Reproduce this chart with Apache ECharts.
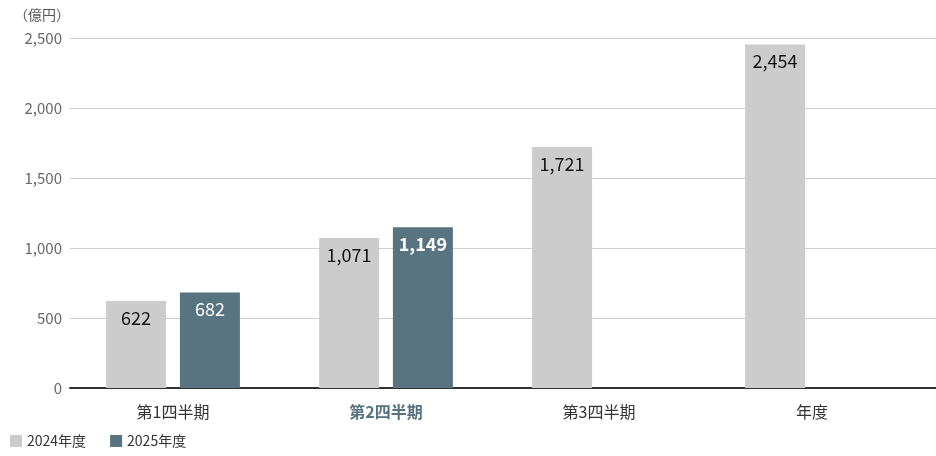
<!DOCTYPE html>
<html><head><meta charset="utf-8">
<script src="https://cdn.jsdelivr.net/npm/echarts@6/dist/echarts.min.js"></script>
<style>html,body{margin:0;padding:0;background:#fff}#c{width:936px;height:456px}</style>
</head><body><div id="c"></div>
<script>
const categories = ['第1四半期', '第2四半期', '第3四半期', '年度'];
const seriesNames = ['2024年度', '2025年度'];
const values2024 = [622, 1071, 1721, 2454];
const values2025 = [682, 1149, null, null];
const yTicks = [0, 500, 1000, 1500, 2000, 2500];
const unitLabel = '（億円）';
const highlightIndex = 1;

const FONT = '"Noto Sans CJK JP", "Noto Sans", sans-serif';
const fmt = v => Number(v).toLocaleString('en-US');

const chart = echarts.init(document.getElementById('c'), null, {renderer: 'canvas'});
chart.setOption({
  animation: false,
  textStyle: {fontFamily: FONT},
  graphic: [{type: 'text', left: 14, top: 8, style: {text: unitLabel, fill: '#555', font: '14px ' + FONT}}],
  legend: {
    left: 5, bottom: 3, icon: 'rect', itemWidth: 12, itemHeight: 12, itemGap: 24,
    textStyle: {fontSize: 14, color: '#333', fontFamily: FONT},
    data: seriesNames
  },
  grid: [
    {left: 70, right: 0, top: 38, bottom: 68},
    {left: 66.5, right: 17.5, top: 38, bottom: 68}
  ],
  xAxis: [
    {gridIndex: 0, type: 'category', data: categories, axisLabel: {show: false}, axisTick: {show: false},
     axisLine: {show: true, lineStyle: {color: '#333', width: 2}}},
    {gridIndex: 1, type: 'category', data: categories, axisTick: {show: false}, axisLine: {show: false},
     axisLabel: {margin: 16, fontSize: 16, color: '#333', fontFamily: FONT,
       formatter: (v, i) => i === highlightIndex ? '{b|' + v + '}' : v,
       rich: {b: {fontSize: 16, fontWeight: 'bold', color: '#56717f', fontFamily: FONT}}}}
  ],
  yAxis: [
    {gridIndex: 0, type: 'value', min: yTicks[0], max: yTicks[yTicks.length - 1], interval: yTicks[1] - yTicks[0],
     axisLine: {show: false}, axisTick: {show: false},
     axisLabel: {formatter: v => fmt(v), fontSize: 15, color: '#666', margin: 8, fontFamily: FONT},
     splitLine: {lineStyle: {color: '#cfcfcf', width: 1}}},
    {gridIndex: 1, type: 'value', min: yTicks[0], max: yTicks[yTicks.length - 1], show: false, splitLine: {show: false}}
  ],
  series: [
    {name: seriesNames[0], type: 'bar', xAxisIndex: 1, yAxisIndex: 1, barWidth: 60, barGap: '23%',
     itemStyle: {color: '#cccccc'},
     label: {show: true, position: 'insideTop', distance: 8, formatter: p => fmt(p.value), fontSize: 18, color: '#111', fontFamily: FONT},
     data: values2024},
    {name: seriesNames[1], type: 'bar', xAxisIndex: 1, yAxisIndex: 1, barWidth: 60,
     itemStyle: {color: '#587480'},
     label: {show: true, position: 'insideTop', distance: 8, formatter: p => fmt(p.value), fontSize: 18, color: '#fff', fontFamily: FONT},
     data: values2025.map((v, i) => i === highlightIndex ? {value: v, label: {fontWeight: 'bold'}} : v)}
  ]
});
</script></body></html>
